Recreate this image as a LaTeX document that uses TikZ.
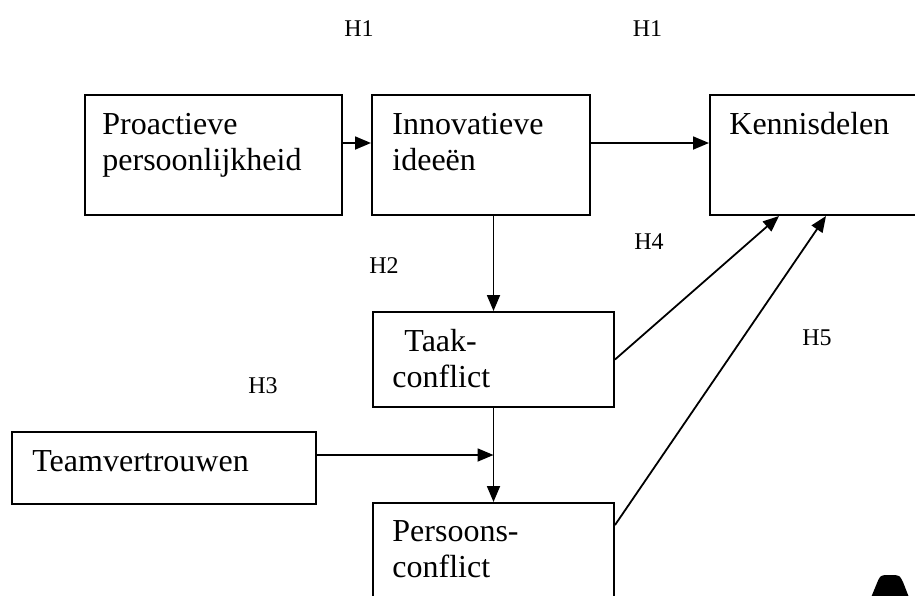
\documentclass[tikz,border=0pt]{standalone}
\usepackage{fontspec}
\setmainfont{Liberation Serif}
\usetikzlibrary{positioning,calc,arrows.meta}

\begin{document}
\begin{tikzpicture}[x=0.5pt, y=-0.5pt,
        box/.style={draw, line width=1pt, rectangle, inner sep=0pt},
        boxtext/.style={anchor=base west, inner sep=0pt, align=left, text width=130pt, font=\fontsize{16}{18}\selectfont},
        hyp/.style={anchor=base, inner sep=0pt, font=\fontsize{12}{14}\selectfont},
        arr/.style={line width=0.9pt, -{Triangle[length=8pt, width=6.5pt]}}]
        \useasboundingbox (0,0) rectangle (915,595);
        \clip (0,0) rectangle (915,595);

        % boxes
        \node [box, minimum width=128.5pt, minimum height=60pt] (pro) at (213.5,155) {};
        \node [box, minimum width=109pt, minimum height=60pt] (inn) at (481,155) {};
        \node [box, minimum width=110pt, minimum height=60pt] (ken) at (820,155) {};
        \node [box, minimum width=120.5pt, minimum height=47.5pt] (taak) at (493.5,359.5) {};
        \node [box, minimum width=152pt, minimum height=36pt] (team) at (164,468) {};
        \node [box, minimum width=120.5pt, minimum height=63.5pt] (pers) at (493.5,566.5) {};

        \node [boxtext] (protxt) at ([shift={(18,40)}]pro.north west) {Proactieve\\persoonlijkheid};
        \node [boxtext] (inntxt) at ([shift={(21,40)}]inn.north west) {Innovatieve\\ideeën};
        \node [boxtext] (kentxt) at ([shift={(20,40)}]ken.north west) {Kennisdelen};
        \node [boxtext] (taaktxt) at ([shift={(20,40)}]taak.north west) {\hspace*{6pt}Taak-\\conflict};
        \node [boxtext] (teamtxt) at ([shift={(21,40)}]team.north west) {Teamvertrouwen};
        \node [boxtext] (perstxt) at ([shift={(20,39)}]pers.north west) {Persoons-\\conflict};

        % hypotheses
        \node [hyp] (h1a) at (359,36) {H1};
        \node [hyp] (h1b) at (647.5,36) {H1};
        \node [hyp] (h2) at (384,273) {H2};
        \node [hyp] (h3) at (263,393) {H3};
        \node [hyp] (h4) at (649,249) {H4};
        \node [hyp] (h5) at (817,345) {H5};

        % arrows
        \draw [arr] ([yshift=6pt]pro.east) -- ([yshift=6pt]inn.west);
        \draw [arr] ([yshift=6pt]inn.east) -- ([yshift=6pt]ken.west);
        \draw [arr] (inn.south -| taak.north) -- (taak.north);
        \draw [arr] (taak.east) -- ([xshift=35pt]ken.south west);
        \draw [arr] (taak.south) -- (pers.north);
        \draw [arr] ([yshift=6.5pt]team.east) -- ([yshift=6.5pt]team.east -| taak.south);
        \draw [arr] ([yshift=-11.5pt]pers.north east) -- ([xshift=58.5pt]ken.south west);

        \fill (870,600) -- (877,583) .. controls (880,576) .. (885,575) -- (895,575)
            .. controls (900,576) .. (903,582) -- (910,600) -- cycle;
    \end{tikzpicture}
\end{document}
